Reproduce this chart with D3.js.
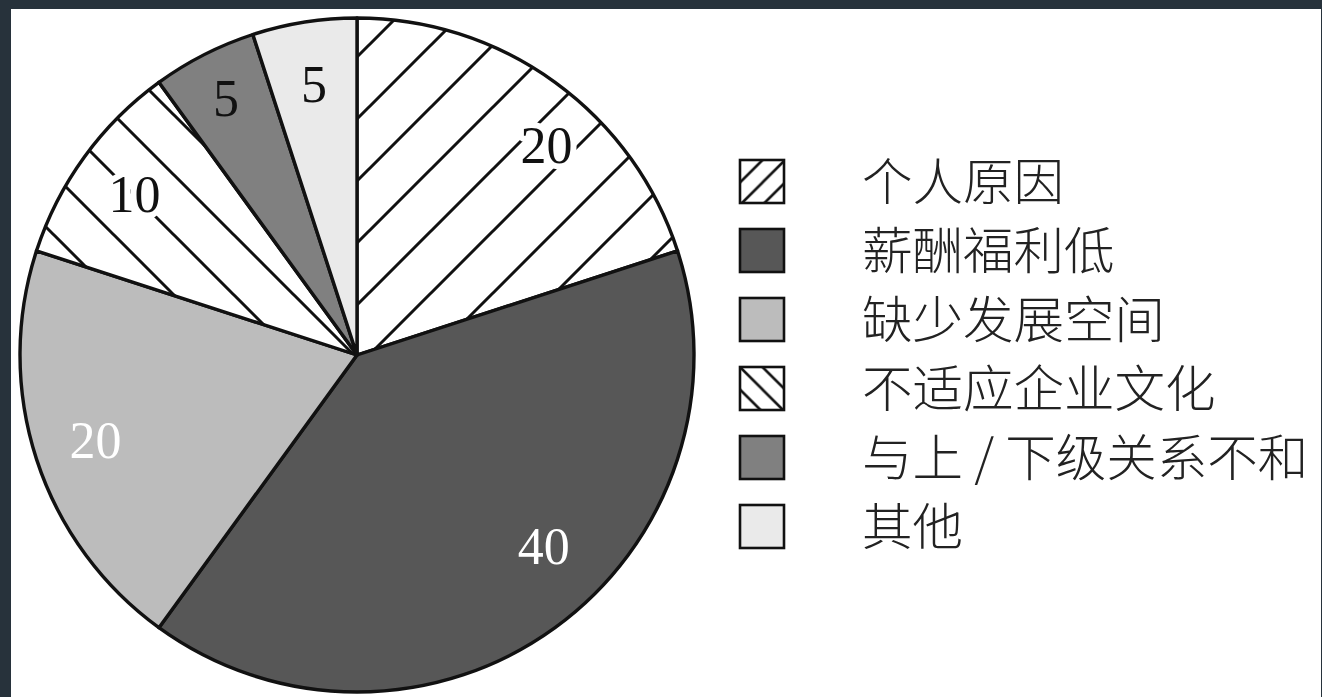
<!DOCTYPE html>
<html>
<head>
<meta charset="utf-8">
<script src="https://cdn.jsdelivr.net/npm/d3@7"></script>
<style>
  html, body { margin: 0; padding: 0; background: #27323b; }
  svg { display: block; }
</style>
</head>
<body>
<svg id="chart" width="1322" height="697"></svg>
<script>
// ---- data ----
const categories = ["个人原因", "薪酬福利低", "缺少发展空间", "不适应企业文化", "与上 / 下级关系不和", "其他"];
const values = [20, 40, 20, 10, 5, 5];
const valueLabels = ["20", "40", "20", "10", "5", "5"];

// ---- styles (not data) ----
const fills = ["url(#hatchFwd)", "#575757", "#bcbcbc", "url(#hatchBack)", "#808080", "#eaeaea"];
const legendFills = ["url(#legFwd)", "#575757", "#bcbcbc", "url(#legBack)", "#808080", "#eaeaea"];
const labelColors = ["#111", "#fff", "#fff", "#111", "#111", "#111"];
const labelHalo = [true, false, false, true, false, false];
const labelAngleNudge = [0.105, -0.147, 0, 0, 0, 0]; // radians
const labelRadiusFactor = [1.03, 0.97, 1, 1, 1.05, 1];

const svg = d3.select("#chart");
const W = 1322, H = 697;

// background frame & white panel
svg.append("rect").attr("x", 0).attr("y", 0).attr("width", W).attr("height", H).attr("fill", "#27323b");
svg.append("rect").attr("x", 11).attr("y", 9).attr("width", 1310).attr("height", 688).attr("fill", "#ffffff");

const defs = svg.append("defs");
// pie hatch "/"
defs.append("pattern").attr("id", "hatchFwd").attr("patternUnits", "userSpaceOnUse")
  .attr("width", 62).attr("height", 62).attr("patternTransform", "translate(12,0)")
  .call(p => {
    p.append("rect").attr("width", 62).attr("height", 62).attr("fill", "#fff");
    p.append("path").attr("d", "M-2,64 L64,-2 M-2,2 L2,-2 M60,64 L64,60")
      .attr("stroke", "#111").attr("stroke-width", 3);
  });
// pie hatch "\"
defs.append("pattern").attr("id", "hatchBack").attr("patternUnits", "userSpaceOnUse")
  .attr("width", 60).attr("height", 60).attr("patternTransform", "translate(-3,0)")
  .call(p => {
    p.append("rect").attr("width", 60).attr("height", 60).attr("fill", "#fff");
    p.append("path").attr("d", "M-2,-2 L62,62 M-2,58 L2,62 M58,-2 L62,2")
      .attr("stroke", "#111").attr("stroke-width", 3);
  });
// legend hatches
defs.append("pattern").attr("id", "legFwd").attr("patternUnits", "userSpaceOnUse")
  .attr("width", 22.5).attr("height", 22.5)
  .call(p => {
    p.append("rect").attr("width", 22.5).attr("height", 22.5).attr("fill", "#fff");
    p.append("path").attr("d", "M-1,23.5 L23.5,-1 M-1,1 L1,-1 M21.5,23.5 L23.5,21.5")
      .attr("stroke", "#111").attr("stroke-width", 2.6);
  });
defs.append("pattern").attr("id", "legBack").attr("patternUnits", "userSpaceOnUse")
  .attr("width", 22.5).attr("height", 22.5)
  .call(p => {
    p.append("rect").attr("width", 22.5).attr("height", 22.5).attr("fill", "#fff");
    p.append("path").attr("d", "M-1,-1 L23.5,23.5 M-1,21.5 L1,23.5 M21.5,-1 L23.5,1")
      .attr("stroke", "#111").attr("stroke-width", 2.6);
  });

// ---- pie ----
const cx = 357, cy = 355, R = 337;
const pie = d3.pie().sort(null).value(d => d.value).startAngle(0).endAngle(2 * Math.PI);
const data = categories.map((c, i) => ({ name: c, value: values[i], i }));
const arcs = pie(data);
const arc = d3.arc().innerRadius(0).outerRadius(R);

const g = svg.append("g").attr("transform", `translate(${cx},${cy})`);
g.selectAll("path.slice").data(arcs).join("path")
  .attr("class", "slice")
  .attr("d", arc)
  .attr("fill", d => fills[d.data.i])
  .attr("stroke", "#111")
  .attr("stroke-width", 3.4)
  .attr("stroke-linejoin", "round");

// labels
const labelR = 275;
g.selectAll("text.val").data(arcs).join("text")
  .attr("class", "val")
  .attr("transform", d => {
    const i = d.data.i;
    const a = (d.startAngle + d.endAngle) / 2 + labelAngleNudge[i];
    const r = labelR * labelRadiusFactor[i];
    return `translate(${r * Math.sin(a)},${-r * Math.cos(a)})`;
  })
  .attr("text-anchor", "middle")
  .attr("dy", "0.35em")
  .attr("font-family", "'Liberation Serif', 'Times New Roman', serif")
  .attr("font-size", 52)
  .attr("fill", d => labelColors[d.data.i])
  .attr("stroke", d => labelHalo[d.data.i] ? "#fff" : "none")
  .attr("stroke-width", d => labelHalo[d.data.i] ? 12 : 0)
  .attr("stroke-linejoin", "round")
  .attr("paint-order", "stroke")
  .text(d => valueLabels[d.data.i]);

// ---- legend ----
const legY = d3.scaleBand().domain(categories).range([160, 574]).paddingInner(0);
const leg = svg.append("g");
const items = leg.selectAll("g.item").data(data).join("g")
  .attr("class", "item")
  .attr("transform", d => `translate(740,${legY(d.name)})`);
items.append("rect")
  .attr("x", 0).attr("y", 0).attr("width", 44).attr("height", 43)
  .attr("fill", d => legendFills[d.i])
  .attr("stroke", "#111").attr("stroke-width", 2.6);
items.append("text")
  .attr("x", 122).attr("y", 21.5)
  .attr("dy", "0.36em")
  .attr("font-family", "'Noto Sans CJK SC', 'Noto Sans', sans-serif")
  .attr("font-size", 50.5)
  .attr("font-weight", 300)
  .attr("fill", "#222")
  .text(d => d.name);
</script>
</body>
</html>
